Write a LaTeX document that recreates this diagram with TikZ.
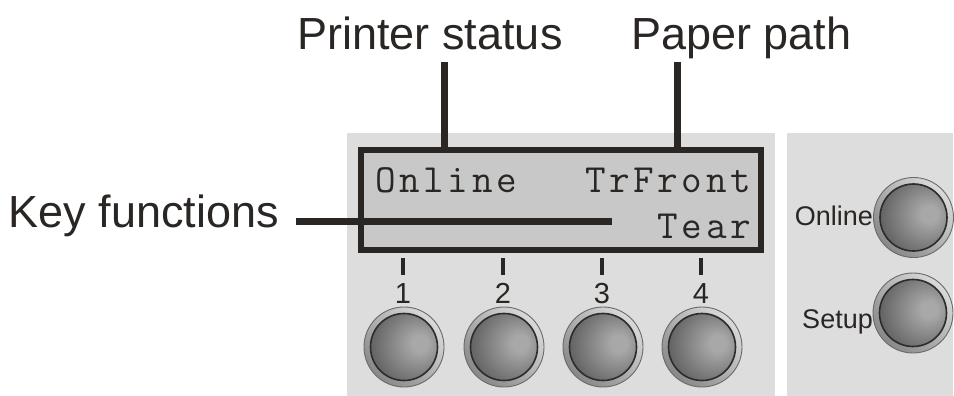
\documentclass[tikz,border=0pt]{standalone}
\usepackage{fontspec}
\setmainfont{Liberation Sans}
\newfontfamily\lcdfont{Latin Modern Mono}[LetterSpace=9]
\usetikzlibrary{calc}
\definecolor{ink}{HTML}{2A2624}
\definecolor{panelgray}{HTML}{DCDDDC}
\definecolor{lcdgray}{HTML}{C7C8C7}
\definecolor{ringlight}{HTML}{DADADA}
\definecolor{ringdark}{HTML}{888888}
\definecolor{ringedge}{HTML}{6A6A6A}
\definecolor{btnedge}{HTML}{2E2C2B}
\definecolor{shl}{HTML}{A8A8A8}
\definecolor{smid}{HTML}{6A6A6A}
\definecolor{sdark}{HTML}{383838}
\pgfdeclareradialshading{btnshade}{\pgfpoint{13bp}{3bp}}{%
  color(0bp)=(shl); color(6bp)=(shl); color(30bp)=(smid); color(50bp)=(sdark); color(80bp)=(sdark)}
\tikzset{
  panel/.style={fill=panelgray},
  lcdbox/.style={draw=ink, line width=6pt, fill=lcdgray, minimum width=400pt, minimum height=100pt, inner sep=0pt},
  leader/.style={draw=ink, line width=7pt},
  keytick/.style={draw=ink, line width=4pt},
  biglabel/.style={text=ink, font=\fontsize{45}{50}\selectfont, inner sep=0pt},
  lcdtext/.style={text=ink, font=\lcdfont\fontsize{40}{42}\selectfont, inner sep=0pt},
  digit/.style={text=ink, font=\fontsize{29}{32}\selectfont, inner sep=0pt},
  sidelabel/.style={text=ink, font=\fontsize{27}{30}\selectfont, inner sep=0pt},
  pics/btn/.style={code={
    \shade[top color=ringlight, bottom color=ringdark, shading angle=-45] (0,0) circle (40pt);
    \draw[ringedge, line width=0.9pt] (0,0) circle (40pt);
    \shade[shading=btnshade, draw=btnedge, line width=1.6pt] (0,0) circle (33.5pt);
  }}
}
\begin{document}
\begin{tikzpicture}[x=1pt,y=-1pt]
\useasboundingbox (0,0) rectangle (954,396);
% panels
\fill[panel] (347,133) rectangle (775,396);
\fill[panel] (787,133) rectangle (953,396);
% LCD
\node[lcdbox] (lcd) at (561,200) {};
\node[lcdtext, anchor=base west] (st) at (375,192) {Online};
\node[lcdtext, anchor=base east] (pp) at (751,192) {TrFront};
\node[lcdtext, anchor=base east] (tear) at (751,238) {Tear};
% labels
\node[biglabel, anchor=base] (lps) at (430,50) {Printer status};
\node[biglabel, anchor=base] (lpp) at (741.5,50) {Paper path};
\node[biglabel, anchor=base west] (lkf) at (8.5,227) {Key functions};
% leaders
\coordinate (ps) at (444,62);
\coordinate (pa) at (677,62);
\coordinate (kfs) at (296,221.5);
\coordinate (kfe) at (612,221.5);
\draw[leader] (ps) -- (ps |- lcd.north);
\draw[leader] (pa) -- (pa |- lcd.north);
\draw[leader] (kfs) -- (kfe);
% keys 1-4
\foreach \i/\x in {1/403,2/503,3/602,4/701}{
  \coordinate (t\i) at (\x,258);
  \draw[keytick] (t\i) -- ++(0,17);
  \node[digit, anchor=base] (d\i) at (\x,303) {\i};
  \pic (b\i) at (\x+1,347) {btn};
}
% right panel buttons
\pic (bon) at (913.5,217.5) {btn};
\pic (bset) at (913,313) {btn};
\node[sidelabel, anchor=base east] (lon) at (873,225) {Online};
\node[sidelabel, anchor=base east] (lset) at (873,328) {Setup};
\end{tikzpicture}
\end{document}
